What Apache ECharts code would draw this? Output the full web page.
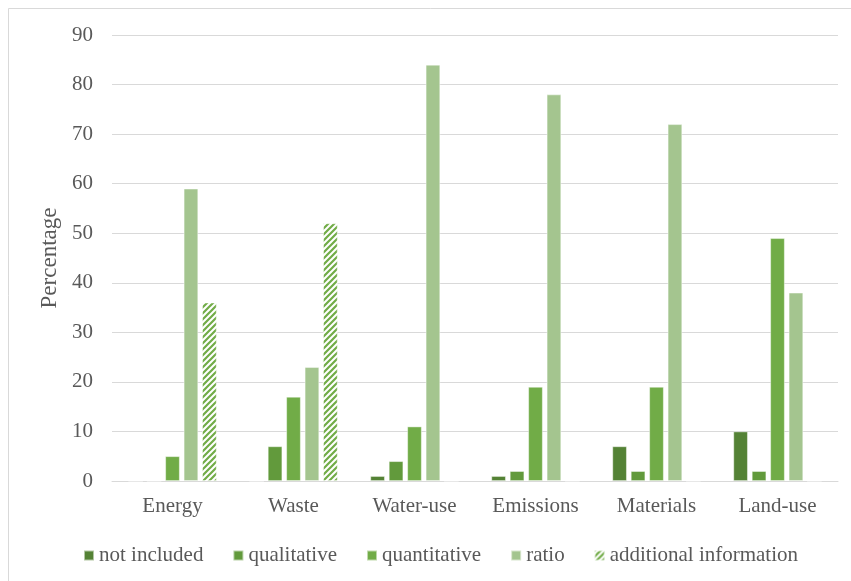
<!DOCTYPE html>
<html>
<head>
<meta charset="utf-8">
<script src="https://cdn.jsdelivr.net/npm/echarts@6/dist/echarts.min.js"></script>
<style>
  html, body { margin: 0; padding: 0; background: #fff; }
  #chart { width: 851px; height: 581px; }
</style>
</head>
<body>
<div id="chart"></div>
<script>
// Categories and values (percent) per reporting type
const categories = ['Energy', 'Waste', 'Water-use', 'Emissions', 'Materials', 'Land-use'];
const notIncluded = [0, 0, 1, 1, 7, 10];
const qualitative = [0, 7, 4, 2, 2, 2];
const quantitative = [5, 17, 11, 19, 19, 49];
const ratio = [59, 23, 84, 78, 72, 38];
const additionalInfo = [36, 52, 0, 0, 0, 0];
const yTicks = { min: 0, max: 90, interval: 10 };

// Diagonal hatch fill for the "additional information" series
function hatchPattern(color) {
  const s = 6;
  const c = document.createElement('canvas');
  c.width = s; c.height = s;
  const g = c.getContext('2d');
  g.fillStyle = '#ffffff';
  g.fillRect(0, 0, s, s);
  g.strokeStyle = color;
  g.lineWidth = 2.2;
  g.lineCap = 'square';
  g.beginPath();
  g.moveTo(-1, s + 1); g.lineTo(s + 1, -1);
  g.moveTo(-1, 1); g.lineTo(1, -1);
  g.moveTo(s - 1, s + 1); g.lineTo(s + 1, s - 1);
  g.stroke();
  return c;
}

const font = '"Liberation Serif", "Times New Roman", serif';
const textColor = '#595959';
const gridColor = '#d9d9d9';
const fontSize = 21;

const chart = echarts.init(document.getElementById('chart'), null, { renderer: 'canvas' });

function barSeries(name, data, color) {
  return {
    name: name,
    type: 'bar',
    data: data,
    barGap: '27%',
    barCategoryGap: '27%',
    itemStyle: { color: color, borderColor: 'rgba(255,255,255,0.55)', borderWidth: 0.8 }
  };
}

chart.setOption({
  animation: false,
  backgroundColor: '#fff',
  graphic: [{
    type: 'rect',
    shape: { x: 8.5, y: 8.5, width: 860, height: 600 },
    style: { fill: 'none', stroke: '#d9d9d9', lineWidth: 1 },
    silent: true
  }],
  grid: { left: 112, right: 13, top: 35, bottom: 100 },
  legend: {
    left: 78,
    top: 540,
    itemWidth: 10,
    itemHeight: 10,
    itemGap: 29,
    icon: 'rect',
    textStyle: { fontFamily: font, fontSize: fontSize, color: textColor },
    data: ['not included', 'qualitative', 'quantitative', 'ratio', 'additional information']
  },
  xAxis: {
    type: 'category',
    data: categories,
    axisTick: { show: false },
    axisLine: { lineStyle: { color: gridColor, width: 1 } },
    axisLabel: { fontFamily: font, fontSize: fontSize, color: textColor, margin: 15 }
  },
  yAxis: {
    type: 'value',
    min: yTicks.min,
    max: yTicks.max,
    interval: yTicks.interval,
    name: 'Percentage',
    nameLocation: 'middle',
    nameGap: 51,
    nameRotate: 90,
    nameTextStyle: { fontFamily: font, fontSize: 23, color: textColor },
    axisLine: { show: false },
    axisTick: { show: false },
    axisLabel: { fontFamily: font, fontSize: fontSize, color: textColor, margin: 19 },
    splitLine: { lineStyle: { color: gridColor, width: 1 } }
  },
  series: [
    barSeries('not included', notIncluded, '#548235'),
    barSeries('qualitative', qualitative, '#629a3c'),
    barSeries('quantitative', quantitative, '#71ac47'),
    barSeries('ratio', ratio, '#a4c58f'),
    barSeries('additional information', additionalInfo, { image: hatchPattern('#71ac47'), repeat: 'repeat' })
  ]
});
</script>
</body>
</html>
